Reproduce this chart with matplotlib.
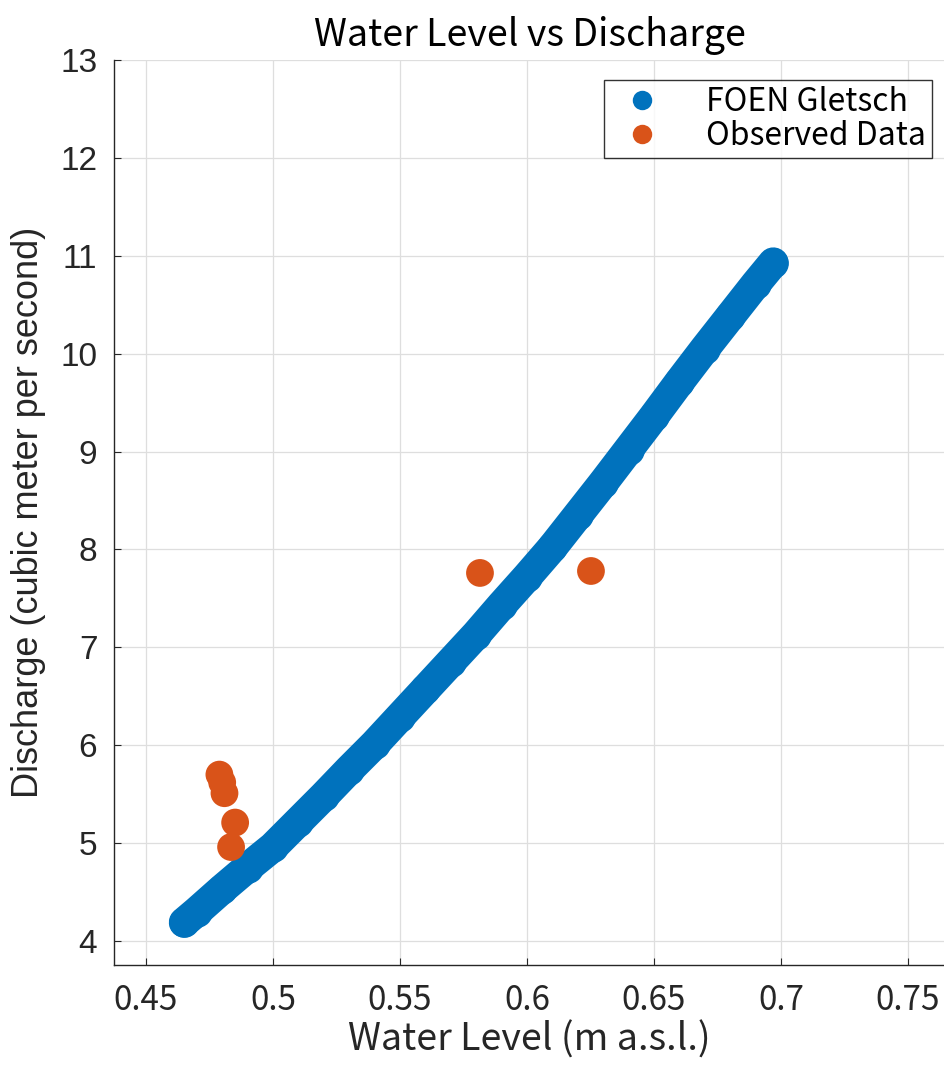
import matplotlib
matplotlib.use("Agg")
import matplotlib.pyplot as plt
from matplotlib.lines import Line2D

# ---- data ----
foen_level = [0.465, 0.47, 0.48, 0.49, 0.50, 0.51, 0.52, 0.53, 0.54, 0.55,
              0.56, 0.57, 0.58, 0.59, 0.60, 0.61, 0.62, 0.63, 0.64, 0.65,
              0.66, 0.67, 0.68, 0.69, 0.697]
foen_discharge = [4.19, 4.30, 4.53, 4.75, 4.96, 5.22, 5.48, 5.75, 6.01, 6.29,
                  6.57, 6.85, 7.13, 7.43, 7.72, 8.02, 8.35, 8.68, 9.02, 9.36,
                  9.71, 10.05, 10.38, 10.71, 10.93]

obs_level = [0.4789, 0.4800, 0.4809, 0.4851, 0.4835, 0.5815, 0.6252]
obs_discharge = [5.70, 5.62, 5.51, 5.21, 4.96, 7.76, 7.78]

x_ticks = [0.45, 0.5, 0.55, 0.6, 0.65, 0.7, 0.75]
x_tick_labels = ["0.45", "0.5", "0.55", "0.6", "0.65", "0.7", "0.75"]
y_ticks = list(range(4, 14))

BLUE = "#0072BD"
ORANGE = "#D95319"
TXT = "#262626"

fig = plt.figure(figsize=(9.45, 10.7), dpi=100)
W, H = 945, 1070
ax = fig.add_axes([114 / W, 1 - 965 / H, (945 - 114) / W, (965 - 60) / H])

ax.plot(foen_level, foen_discharge, "-o", color=BLUE, lw=22, ms=22,
        markeredgewidth=0, solid_capstyle="round", solid_joinstyle="round",
        zorder=3)
ax.scatter(obs_level, obs_discharge, s=400, color=ORANGE, edgecolors="none",
           zorder=4)

ax.set_xlim(0.4374, 0.7646)
ax.set_ylim(3.755, 13)
ax.set_xticks(x_ticks)
ax.set_xticklabels(x_tick_labels)
ax.set_yticks(y_ticks)

ax.grid(True, color="#dedede", lw=0.9)
ax.set_axisbelow(True)
for s in ["top", "right"]:
    ax.spines[s].set_visible(False)
for s in ["left", "bottom"]:
    ax.spines[s].set_color(TXT)
    ax.spines[s].set_linewidth(1.0)

ax.tick_params(direction="in", length=5, width=0.8, color=TXT, labelcolor=TXT)
ax.tick_params(axis="x", pad=13)
ax.tick_params(axis="y", pad=12)

jp = ["Noto Sans CJK JP", "DejaVu Sans"]
ar = ["Liberation Sans", "DejaVu Sans"]
for lab in ax.get_xticklabels():
    lab.set_fontfamily(jp)
    lab.set_fontsize(24)
for lab in ax.get_yticklabels():
    lab.set_fontfamily(ar)
    lab.set_fontsize(24)

ax.set_title("Water Level vs Discharge", family=jp, fontsize=27, color="black",
             pad=10)
ax.set_xlabel("Water Level (m a.s.l.)", family=jp, fontsize=27, color=TXT,
              labelpad=2)
ax.set_ylabel("Discharge (cubic meter per second)", family=ar, fontsize=26,
              color=TXT, labelpad=10)

handles = [
    Line2D([], [], ls="none", marker="o", ms=14, color=BLUE, mew=0),
    Line2D([], [], ls="none", marker="o", ms=14, color=ORANGE, mew=0),
]
leg = ax.legend(handles, ["FOEN Gletsch", "Observed Data"],
                loc="upper right", bbox_to_anchor=(932 / W, 1 - 80 / H),
                bbox_transform=fig.transFigure, prop={"family": jp, "size": 23},
                frameon=True, fancybox=False, edgecolor="black",
                borderpad=0.2, labelspacing=0.05, handletextpad=1.0,
                handlelength=2.0, borderaxespad=0)
leg.get_frame().set_linewidth(1.0)
for t in leg.get_texts():
    t.set_color("black")

fig.savefig("out.png", dpi=100, facecolor="white")
